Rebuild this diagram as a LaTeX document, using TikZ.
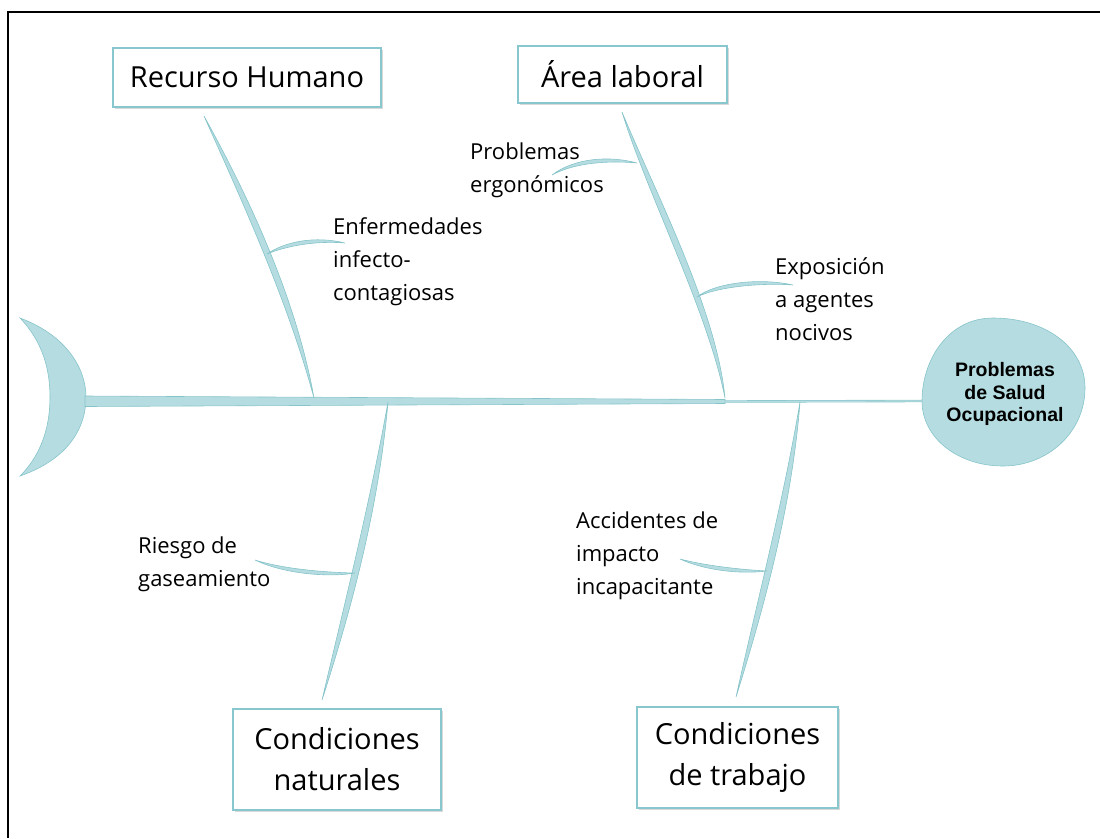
\documentclass[tikz,border=0pt]{standalone}
\usepackage{fontspec}
\setmainfont{Open Sans}
\newfontfamily\headfont{Liberation Sans}
\usetikzlibrary{calc,shadows}
\definecolor{bonefill}{HTML}{B5DDE1}
\definecolor{boneline}{HTML}{86C4CA}
\definecolor{boxline}{HTML}{88C7CD}
\newcommand\fbone[5]{%
  \filldraw[bone] (#1) .. controls ($(#2)+(#5)$) and ($(#3)+(#5)$) .. (#4)
     .. controls ($(#3)-(#5)$) and ($(#2)-(#5)$) .. (#1) -- cycle;}
\tikzset{
  bone/.style={fill=bonefill, draw=boneline, line width=0.6pt},
  catbox/.style={draw=boxline, line width=2.2pt, fill=white, align=center,
    font=\fontsize{29}{41}\selectfont, inner sep=0pt,
    drop shadow={shadow xshift=1.5pt, shadow yshift=-1.5pt, fill=black!25, opacity=0.6}},
  cause/.style={anchor=west, align=left, inner sep=0pt, font=\fontsize{22}{33}\selectfont},
}
\begin{document}
\begin{tikzpicture}[x=1pt,y=-1pt]
\useasboundingbox (0,0) rectangle (1100,838);
% frame
\draw[line width=2pt] (8,838) -- (8,12) -- (1100,12);

% category boxes
\node[catbox, minimum width=268pt, minimum height=59pt] (rh) at (247,77.5) {Recurso Humano};
\node[catbox, minimum width=209pt, minimum height=57pt] (al) at (622.5,74.5) {Área laboral};
\node[catbox, minimum width=208pt, minimum height=101pt] (cn) at (337,759.5) {Condiciones\\naturales};
\node[catbox, minimum width=201pt, minimum height=101pt] (ct) at (737.5,757.5) {Condiciones\\de trabajo};

% tail
\filldraw[bone] (20,318) .. controls (68,336) and (86,370) .. (86,397)
  .. controls (86,430) and (66,460) .. (20,476)
  .. controls (44,452) and (50,422) .. (50,397)
  .. controls (50,370) and (43,342) .. (20,318) -- cycle;
\coordinate (tail) at (85,401);

% head
\filldraw[bone] (993,318) .. controls (1045,318) and (1085,347) .. (1085,388)
  .. controls (1085,432) and (1048,466) .. (1003,466)
  .. controls (958,466) and (922,438) .. (922,401)
  .. controls (922,360) and (948,318) .. (993,318) -- cycle;
\node[font=\headfont\bfseries\fontsize{19.5}{22.5}\selectfont, align=center] (head) at (1005,394)
  {Problemas\\de Salud\\Ocupacional};
\coordinate (headin) at (922,401);

% spine
\coordinate (sj) at (725,401.5);
\filldraw[bone] (85,396) -- (725,399.5) -- (725,403.5) -- (85,406.5) -- cycle;
\draw[boneline, line width=2.4pt] (sj) -- (headin);
\draw[bonefill, line width=1.2pt] (sj) -- (headin);

% main bones
\coordinate (rhT) at (204,116); \coordinate (rhB) at (314,398);
\coordinate (alT) at (622,112); \coordinate (alB) at (725,398);
\coordinate (cnT) at (388,402); \coordinate (cnB) at (322,700);
\coordinate (ctT) at (800,402); \coordinate (ctB) at (736,697);
\fbone{rhT}{246,200}{292,300}{rhB}{4.5,0}
\fbone{alT}{652,195}{712,310}{alB}{4.5,0}
\fbone{cnT}{375,500}{350,600}{cnB}{4.5,0}
\fbone{ctT}{788,500}{762,600}{ctB}{4.5,0}

% sub bones
\coordinate (s1a) at (267,254); \coordinate (s1b) at (345,243);
\coordinate (s2a) at (637,163); \coordinate (s2b) at (552,175);
\coordinate (s3a) at (697,297); \coordinate (s3b) at (793,285);
\coordinate (s4a) at (355,573); \coordinate (s4b) at (255,560);
\coordinate (s5a) at (767,571); \coordinate (s5b) at (680,559);
\fbone{s1a}{285,244}{315,238}{s1b}{0,2.4}
\fbone{s2a}{610,158}{575,160}{s2b}{0,2.4}
\fbone{s3a}{715,285}{760,280}{s3b}{0,2.4}
\fbone{s4a}{330,575}{285,572}{s4b}{0,2.4}
\fbone{s5a}{740,572}{705,568}{s5b}{0,2.4}

% cause labels
\node[cause] (c1) at (333,262) {Enfermedades\\infecto-\\contagiosas};
\node[cause] (c2) at (470,170) {Problemas\\ergonómicos};
\node[cause] (c3) at (775,299) {Exposición\\a agentes\\nocivos};
\node[cause] (c4) at (138,564) {Riesgo de\\gaseamiento};
\node[cause] (c5) at (576,556) {Accidentes de\\impacto\\incapacitante};
\end{tikzpicture}
\end{document}
